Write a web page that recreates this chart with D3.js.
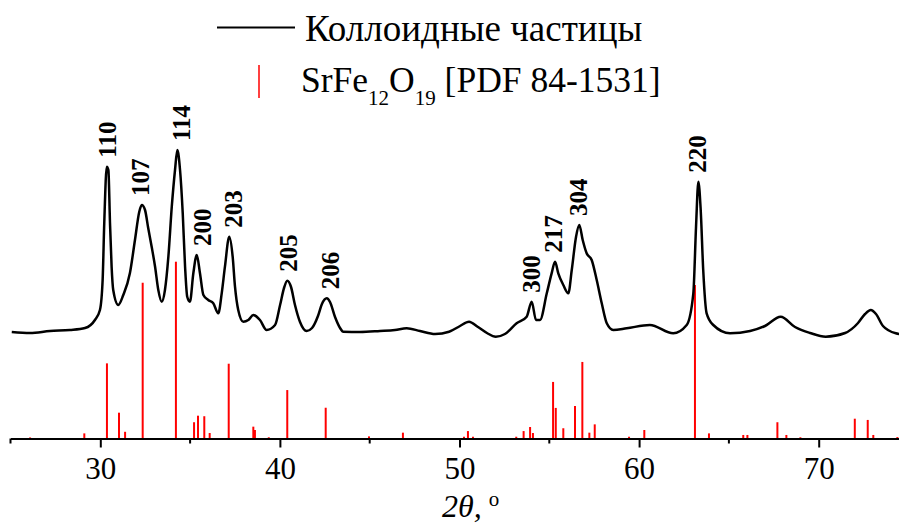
<!DOCTYPE html>
<html>
<head>
<meta charset="utf-8">
<script src="https://cdn.jsdelivr.net/npm/d3@7"></script>
<style>
  body { margin: 0; background: #fff; }
  text { font-family: "Liberation Serif", "Times New Roman", serif; fill: #000; }
</style>
</head>
<body>
<script>
var svgWidth = 899;
var svgHeight = 523;
var axisY = 438.5;
var serif = "'Liberation Serif', 'Times New Roman', serif";

// Measured pattern of the colloidal particles (2theta, intensity a.u.)
var pattern2theta = [25.07, 26.09, 27.20, 28.31, 29.15, 29.70, 29.98, 30.13, 30.22, 30.36,
  30.45, 30.54, 30.63, 30.72, 31.00, 31.28, 31.65, 31.93, 32.17, 32.31,
  32.49, 32.67, 32.86, 33.05, 33.23, 33.42, 33.60, 33.79, 33.98, 34.16,
  34.29, 34.44, 34.59, 34.72, 34.84, 34.99, 35.18, 35.37, 35.55, 35.74,
  36.01, 36.29, 36.57, 36.76, 36.94, 37.18, 37.37, 37.50, 37.68, 37.96,
  38.24, 38.52, 38.89, 39.26, 39.73, 40.01, 40.23, 40.41, 40.62, 40.84,
  41.12, 41.49, 41.79, 42.12, 42.34, 42.61, 42.79, 43.07, 43.35, 43.53,
  44.46, 45.57, 46.41, 47.06, 47.80, 48.64, 49.42, 50.03, 50.53, 51.03,
  51.53, 52.02, 52.53, 53.18, 53.74, 54.02, 54.26, 54.48, 54.86, 55.13,
  55.32, 55.50, 55.78, 56.06, 56.25, 56.49, 56.67, 56.86, 57.08, 57.36,
  57.64, 57.92, 58.20, 58.56, 59.31, 60.60, 61.90, 62.65, 63.02, 63.17,
  63.30, 63.43, 63.57, 63.76, 64.13, 65.06, 66.18, 67.01, 67.88, 68.68,
  69.52, 70.39, 71.47, 72.19, 72.58, 72.90, 73.19, 73.58, 74.29, 74.97];
var patternIntensity = [60, 50, 70, 80, 100, 180, 280, 580, 1147, 1713,
  1680, 1150, 713, 480, 330, 430, 650, 980, 1263, 1330,
  1280, 1097, 913, 713, 480, 363, 480, 813, 1313, 1680,
  1880, 1680, 1247, 713, 413, 363, 647, 830, 647, 430,
  380, 347, 247, 447, 713, 1013, 813, 513, 280, 163,
  180, 230, 180, 80, 130, 330, 500, 573, 510, 330,
  160, 70, 100, 220, 340, 397, 360, 210, 100, 63,
  60, 70, 80, 97, 70, 40, 63, 120, 163, 110,
  50, 13, 40, 147, 213, 363, 180, 180, 447, 647,
  763, 647, 530, 447, 680, 1013, 1130, 980, 847, 780,
  580, 347, 147, 80, 97, 130, 47, 130, 447, 1113,
  1563, 1280, 680, 247, 130, 47, 70, 120, 213, 110,
  50, 13, 50, 150, 240, 280, 240, 120, 47, 30];

// SrFe12O19 reference lines [PDF 84-1531] (2theta, relative intensity %)
var ref2theta = [26.09, 29.11, 30.37, 31.04, 31.38, 32.36, 34.21, 35.22, 35.44, 35.79,
  36.09, 37.15, 38.52, 38.61, 39.38, 40.41, 42.55, 44.96, 46.85, 50.25,
  50.47, 50.75, 53.16, 53.57, 53.93, 54.09, 55.21, 55.36, 55.78, 56.43,
  56.84, 57.23, 57.53, 59.44, 60.29, 63.11, 63.89, 65.80, 66.03, 67.70,
  68.20, 68.98, 72.01, 72.73, 73.04, 74.38];
var refIntensity = [0.6, 2.9, 42.5, 14.6, 3.8, 88.1, 100, 9.2, 12.9, 12.6,
  3.1, 42.3, 6.7, 4.8, 0.7, 27.4, 17.4, 1.2, 3.3, 1.0,
  4.2, 1.0, 1.0, 4.2, 6.5, 3.1, 32.0, 17.3, 5.8, 18.4,
  43.3, 3.3, 8.0, 1.0, 4.8, 86.8, 2.9, 2.0, 2.0, 9.2,
  2.0, 0.7, 11.2, 10.5, 2.0, 0.8];

// hkl labels and where they sit on the 2theta axis
var hklLabels = ["110", "107", "114", "200", "203", "205", "206", "300", "217", "304", "220"];
var hkl2theta = [30.37, 32.21, 34.53, 35.65, 37.41, 40.47, 42.79, 53.97, 55.21, 56.61, 63.24];

var majorTicks = [30, 40, 50, 60, 70];
var minorTicks = [25, 35, 45, 55, 65, 75];

var svg = d3.select("body")
  .append("svg")
  .attr("width", svgWidth)
  .attr("height", svgHeight)
  .attr("font-family", serif);

var xScale = d3.scaleLinear()
  .domain([25, 75])
  .range([10.5, 908.5]);

var yCurve = d3.scaleLinear()
  .domain([0, 2000])
  .range([338, 138]);

var yRef = d3.scaleLinear()
  .domain([0, 100])
  .range([axisY, 261.7]);

// reference sticks
svg.append("g").selectAll("line")
  .data(ref2theta)
  .enter().append("line")
  .attr("x1", d => xScale(d))
  .attr("x2", d => xScale(d))
  .attr("y1", axisY)
  .attr("y2", (d, i) => yRef(refIntensity[i]))
  .attr("stroke", "#ff0000")
  .attr("stroke-width", 2);

// measured curve
var points = pattern2theta.map((t, i) => [t, patternIntensity[i]]);
var line = d3.line()
  .x(d => xScale(d[0]))
  .y(d => yCurve(d[1]))
  .curve(d3.curveMonotoneX);

svg.append("path")
  .datum(points)
  .attr("d", line)
  .attr("fill", "none")
  .attr("stroke", "#000")
  .attr("stroke-width", 2.5)
  .attr("stroke-linejoin", "round");

// axis
var bottomAxis = d3.axisBottom(xScale)
  .tickValues(majorTicks)
  .tickSize(9)
  .tickSizeOuter(0)
  .tickPadding(9)
  .tickFormat(d3.format("d"));

var axisGroup = svg.append("g")
  .attr("transform", `translate(0, ${axisY})`)
  .call(bottomAxis)
  .attr("font-family", serif)
  .attr("font-size", 31);
axisGroup.select(".domain").attr("stroke-width", 2);
axisGroup.selectAll(".tick line").attr("stroke-width", 2);
axisGroup.selectAll(".tick text")
  .attr("font-family", serif)
  .style("font-family", serif)
  .style("font-size", "31px");

axisGroup.selectAll(".minor")
  .data(minorTicks)
  .enter().append("line")
  .attr("class", "minor")
  .attr("x1", d => xScale(d))
  .attr("x2", d => xScale(d))
  .attr("y1", 0)
  .attr("y2", 5)
  .attr("stroke", "#000")
  .attr("stroke-width", 2);

// axis title
var title = svg.append("text")
  .attr("x", 442)
  .attr("y", 517)
  .style("font-size", "32px");
title.append("tspan").style("font-style", "italic").text("2\u03b8,");
title.append("tspan").attr("dx", 7).attr("dy", -11).style("font-size", "21px").text("o");

// hkl labels above the peaks
function peakTop(t) {
  var best = 0;
  pattern2theta.forEach((p, i) => {
    if (Math.abs(p - t) <= 0.3 && patternIntensity[i] > best) best = patternIntensity[i];
  });
  return best;
}

svg.append("g").selectAll("text")
  .data(hklLabels)
  .enter().append("text")
  .attr("transform", (d, i) => `translate(${xScale(hkl2theta[i])}, ${yCurve(peakTop(hkl2theta[i])) - 9}) rotate(-90)`)
  .attr("dy", "0.35em")
  .style("font-size", "25px")
  .style("font-weight", "bold")
  .text(d => d);

// legend
var legend = svg.append("g");
legend.append("line")
  .attr("x1", 217).attr("x2", 295)
  .attr("y1", 27.5).attr("y2", 27.5)
  .attr("stroke", "#000").attr("stroke-width", 2);
legend.append("text")
  .attr("x", 305).attr("y", 41)
  .style("font-size", "37px")
  .text("Коллоидные частицы");
legend.append("line")
  .attr("x1", 259).attr("x2", 259)
  .attr("y1", 65).attr("y2", 98)
  .attr("stroke", "#ff0000").attr("stroke-width", 1.5);
var refText = legend.append("text")
  .attr("x", 301).attr("y", 92)
  .style("font-size", "35.5px");
refText.append("tspan").text("SrFe");
refText.append("tspan").attr("dy", 13).style("font-size", "21px").text("12");
refText.append("tspan").attr("dy", -13).text("O");
refText.append("tspan").attr("dy", 13).style("font-size", "21px").text("19");
refText.append("tspan").attr("dy", -13).text(" [PDF 84-1531]");
</script>
</body>
</html>
